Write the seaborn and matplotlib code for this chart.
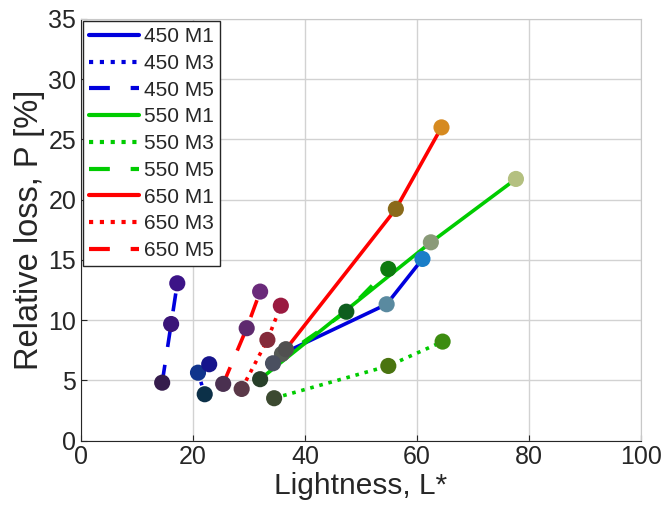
import numpy as np
import pandas as pd
import matplotlib
matplotlib.use("Agg")
import matplotlib.pyplot as plt
import seaborn as sns

# series names in legend order
series = ["450 M1", "450 M3", "450 M5",
          "550 M1", "550 M3", "550 M5",
          "650 M1", "650 M3", "650 M5"]

# lightness L* of the three points of each series
lightness = [[35.9, 54.6, 61.0],
             [22.1, 20.9, 22.9],
             [14.5, 16.1, 17.2],
             [32.0, 62.5, 77.7],
             [34.5, 54.9, 64.6],
             [34.3, 47.4, 54.9],
             [36.6, 56.25, 64.4],
             [28.7, 33.3, 35.7],
             [25.4, 29.6, 32.0]]

# relative loss P [%]
loss = [[7.2, 11.32, 15.08],
        [3.85, 5.64, 6.34],
        [4.81, 9.68, 13.06],
        [5.10, 16.46, 21.72],
        [3.52, 6.2, 8.22],
        [6.42, 10.7, 14.25],
        [7.59, 19.23, 26.0],
        [4.29, 8.36, 11.2],
        [4.71, 9.33, 12.37]]

# colour of each measured sample (marker face)
sample_colors = [["#555a55", "#5a8aa0", "#1a7ec8"],
                 ["#0c3048", "#10348c", "#16148c"],
                 ["#351c4c", "#3a1478", "#3c1487"],
                 ["#28402a", "#8a9a78", "#b4c080"],
                 ["#3c4a30", "#4a7410", "#3c8c10"],
                 ["#4a5060", "#0e5e1e", "#0e7a10"],
                 ["#505050", "#8a6a1a", "#d68a20"],
                 ["#5a3848", "#842a3a", "#9a1a40"],
                 ["#4a3050", "#5e2a6e", "#6a2a7a"]]

line_colors = {"450": "#0000dd", "550": "#00cc00", "650": "#ff0000"}
dash_styles = {"M1": "", "M3": (1, 1.6), "M5": (5, 5)}

rows = []
for s, xs, ys, cs in zip(series, lightness, loss, sample_colors):
    for i, (x, y, c) in enumerate(zip(xs, ys, cs)):
        rows.append({"series": s, "L": x, "P": y, "pid": f"{s}_{i}", "c": c})
df = pd.DataFrame(rows)

sns.set_style("white")
plt.rcParams["font.family"] = ["Liberation Sans", "DejaVu Sans"]

fig = plt.figure(figsize=(6.64, 5.19), dpi=100)
ax = fig.add_axes([0.122, 0.151, 0.843, 0.8125])

pal = {s: line_colors[s.split()[0]] for s in series}
dashes = {s: dash_styles[s.split()[1]] for s in series}
sns.lineplot(data=df, x="L", y="P", hue="series", style="series",
             palette=pal, dashes=dashes, sort=False, estimator=None,
             linewidth=2.6, ax=ax)

sns.scatterplot(data=df, x="L", y="P", hue="pid",
                palette=dict(zip(df["pid"], df["c"])), s=135,
                linewidth=0, legend=False, ax=ax, zorder=5)

ax.set_xlim(0, 100)
ax.set_ylim(0, 35)
ax.set_xticks(np.arange(0, 101, 20))
ax.set_yticks(np.arange(0, 36, 5))
ax.grid(True, color="#d2d2d2", linewidth=1)
ax.set_axisbelow(True)
ax.tick_params(labelsize=18, direction="in", length=4, colors="#262626",
               bottom=True, left=True)
for side in ["left", "bottom"]:
    ax.spines[side].set_color("#262626")
for side in ["top", "right"]:
    ax.spines[side].set_color("#c8c8c8")
ax.set_xlabel("Lightness, L*", fontsize=21.5, color="#262626", labelpad=2)
ax.set_ylabel("Relative loss, P [%]", fontsize=23.5, color="#262626", labelpad=2)

handles, labels = ax.get_legend_handles_labels()
keep = [(h, l) for h, l in zip(handles, labels) if l in series]
leg = ax.legend([h for h, _ in keep], [l for _, l in keep], loc="upper left",
                fontsize=15, handlelength=2.4, handletextpad=0.2,
                labelspacing=0.37, borderpad=0.3, borderaxespad=0.1,
                fancybox=False, framealpha=1, edgecolor="#262626")
leg.get_frame().set_linewidth(1)
for line in leg.get_lines():
    line.set_linewidth(3)

fig.savefig("out.png", dpi=100)
